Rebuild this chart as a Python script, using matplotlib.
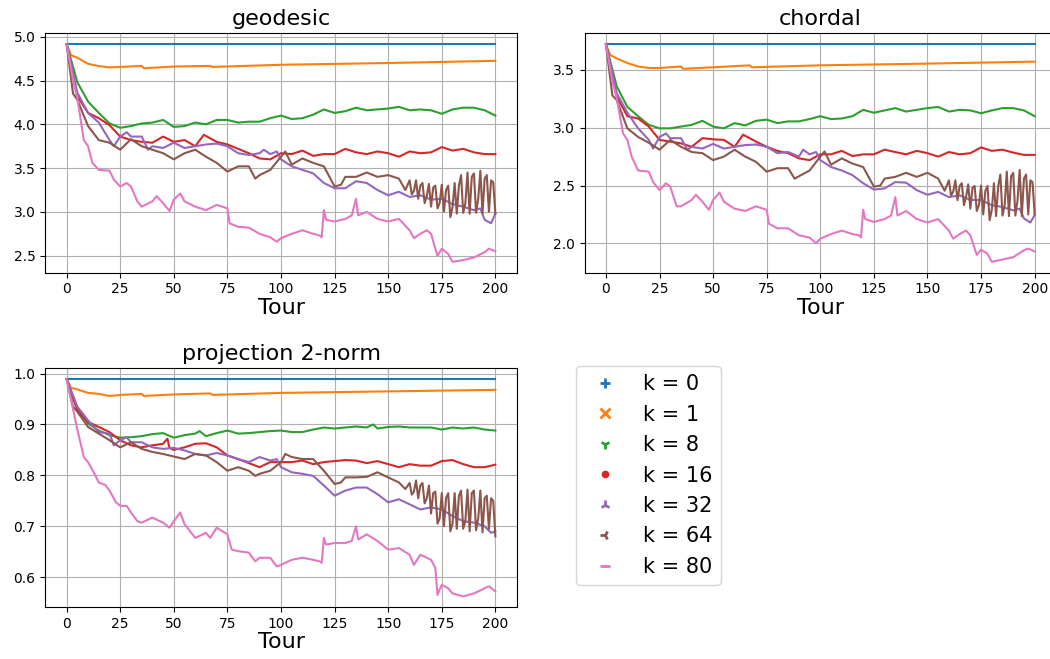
import matplotlib
matplotlib.use('Agg')
import matplotlib.pyplot as plt
from matplotlib.lines import Line2D

# values, as (tour, value) pairs
k_labels = ['k = 0', 'k = 1', 'k = 8', 'k = 16', 'k = 32', 'k = 64', 'k = 80']
k_markers = ['+', 'x', '1', '.', '2', '3', '_']
titles = ['geodesic', 'chordal', 'projection 2-norm']
xticks = [0, 25, 50, 75, 100, 125, 150, 175, 200]

#### geodesic
geo_k0 = [(0, 4.915), (200, 4.915)]
geo_k1 = [(0, 4.915), (2, 4.79), (5, 4.76), (10, 4.69), (15, 4.665), (20, 4.65), (25, 4.655),
          (35, 4.667), (36, 4.64), (50, 4.66), (67, 4.667), (68, 4.655), (100, 4.68),
          (150, 4.70), (200, 4.725)]
geo_k8 = [(0, 4.915), (5, 4.48), (10, 4.26), (15, 4.13), (20, 4.01), (25, 3.96), (30, 3.98),
          (35, 4.01), (40, 4.02), (45, 4.05), (50, 3.97), (55, 3.98), (60, 4.02), (65, 4.0),
          (70, 4.05), (75, 4.05), (80, 4.02), (85, 4.03), (90, 4.03), (95, 4.07), (100, 4.10),
          (105, 4.06), (110, 4.07), (115, 4.11), (120, 4.17), (125, 4.13), (130, 4.15),
          (135, 4.19), (140, 4.16), (145, 4.17), (150, 4.18), (155, 4.20), (160, 4.16),
          (165, 4.17), (170, 4.16), (175, 4.12), (180, 4.17), (185, 4.19), (190, 4.19),
          (195, 4.16), (200, 4.10)]
geo_k16 = [(0, 4.915), (5, 4.32), (10, 4.13), (15, 4.07), (20, 3.99), (25, 3.86), (30, 3.82),
           (35, 3.80), (40, 3.79), (45, 3.86), (50, 3.80), (55, 3.82), (60, 3.75), (64, 3.88),
           (70, 3.80), (75, 3.77), (80, 3.72), (85, 3.67), (90, 3.61), (95, 3.60), (100, 3.67),
           (105, 3.66), (110, 3.70), (115, 3.64), (120, 3.66), (125, 3.66), (130, 3.72),
           (135, 3.68), (140, 3.66), (145, 3.69), (150, 3.67), (155, 3.63), (160, 3.69),
           (165, 3.67), (170, 3.68), (175, 3.74), (180, 3.70), (185, 3.72), (190, 3.68),
           (195, 3.66), (200, 3.66)]
geo_k32 = [(0, 4.915), (5, 4.36), (10, 4.13), (15, 4.02), (20, 3.82), (22, 3.75), (25, 3.86),
           (28, 3.91), (30, 3.86), (35, 3.86), (38, 3.71), (40, 3.75), (45, 3.73), (50, 3.79),
           (55, 3.73), (60, 3.75), (65, 3.77), (70, 3.78), (75, 3.75), (80, 3.67), (85, 3.65),
           (90, 3.67), (92, 3.71), (95, 3.66), (98, 3.69), (100, 3.60), (105, 3.52),
           (110, 3.48), (115, 3.44), (120, 3.33), (125, 3.27), (130, 3.27), (135, 3.35),
           (140, 3.33), (145, 3.25), (150, 3.19), (155, 3.23), (160, 3.17), (165, 3.19),
           (170, 3.14), (175, 3.15), (180, 3.09), (185, 3.06), (190, 3.02), (193, 3.04),
           (195, 2.91), (198, 2.87), (200, 2.98)]
geo_k64 = [(0, 4.915), (3, 4.35), (5, 4.28), (10, 3.98), (15, 3.82), (20, 3.79), (25, 3.71),
           (30, 3.83), (35, 3.75), (40, 3.71), (45, 3.67), (50, 3.60), (55, 3.67), (60, 3.71),
           (65, 3.63), (70, 3.56), (75, 3.46), (80, 3.52), (85, 3.52), (88, 3.38), (90, 3.42),
           (95, 3.48), (100, 3.63), (102, 3.69), (105, 3.54), (110, 3.61), (115, 3.56),
           (120, 3.52), (125, 3.29), (128, 3.31), (130, 3.40), (135, 3.40), (140, 3.45),
           (145, 3.40), (150, 3.42), (155, 3.38), (158, 3.25), (160, 3.36), (161, 3.20),
           (162, 3.24), (163, 3.36), (164, 3.15), (165, 3.30), (166, 3.33), (167, 3.10),
           (168, 3.18), (169, 3.32), (170, 3.06), (171, 3.28), (172, 3.30), (173, 3.04),
           (174, 3.10), (175, 3.31), (176, 3.00), (177, 3.25), (178, 3.30), (179, 2.94),
           (180, 3.05), (181, 3.33), (182, 2.98), (183, 3.30), (184, 3.42), (185, 2.99),
           (186, 3.10), (187, 3.45), (188, 2.98), (189, 3.40), (190, 3.44), (191, 2.99),
           (192, 3.15), (193, 3.47), (194, 2.98), (195, 3.38), (196, 3.42), (197, 3.00),
           (198, 3.36), (199, 3.34), (200, 2.98)]
geo_k80 = [(0, 4.915), (3, 4.5), (5, 4.3), (8, 3.82), (10, 3.75), (12, 3.56), (15, 3.48),
           (20, 3.47), (22, 3.37), (25, 3.29), (28, 3.33), (30, 3.29), (33, 3.12), (35, 3.06),
           (40, 3.12), (42, 3.18), (45, 3.10), (48, 3.01), (50, 3.14), (53, 3.21), (55, 3.12),
           (60, 3.06), (65, 3.02), (70, 3.08), (75, 3.04), (76, 2.87), (80, 2.83), (85, 2.82),
           (90, 2.75), (95, 2.71), (98, 2.66), (100, 2.70), (105, 2.75), (110, 2.79),
           (115, 2.75), (118, 2.73), (119, 2.71), (120, 3.02), (121, 2.91), (125, 2.89),
           (130, 2.92), (133, 2.96), (135, 3.15), (136, 2.96), (140, 3.00), (145, 2.92),
           (150, 2.89), (155, 2.92), (160, 2.79), (162, 2.70), (165, 2.75), (168, 2.79),
           (170, 2.75), (172, 2.58), (173, 2.50), (175, 2.58), (178, 2.52), (180, 2.43),
           (185, 2.45), (190, 2.48), (195, 2.54), (197, 2.58), (200, 2.55)]

#### chordal
cho_k0 = [(0, 3.723), (200, 3.723)]
cho_k1 = [(0, 3.723), (2, 3.63), (5, 3.60), (10, 3.56), (15, 3.53), (20, 3.517), (25, 3.517),
          (35, 3.53), (36, 3.51), (50, 3.523), (67, 3.54), (68, 3.523), (100, 3.54),
          (150, 3.555), (200, 3.572)]
cho_k8 = [(0, 3.723), (5, 3.36), (10, 3.18), (15, 3.10), (20, 3.025), (25, 2.995), (30, 2.995),
          (35, 3.01), (40, 3.025), (45, 3.06), (50, 3.01), (55, 2.995), (60, 3.04), (65, 3.02),
          (70, 3.06), (75, 3.07), (80, 3.04), (85, 3.055), (90, 3.055), (95, 3.075), (100, 3.10),
          (105, 3.075), (110, 3.08), (115, 3.10), (120, 3.155), (125, 3.13), (130, 3.15),
          (135, 3.17), (140, 3.14), (145, 3.155), (150, 3.17), (155, 3.18), (160, 3.14),
          (165, 3.155), (170, 3.15), (175, 3.125), (180, 3.15), (185, 3.17), (190, 3.17),
          (195, 3.15), (200, 3.10)]
cho_k16 = [(0, 3.723), (5, 3.27), (10, 3.10), (15, 3.08), (20, 3.01), (25, 2.895), (30, 2.88),
           (35, 2.865), (40, 2.835), (45, 2.91), (50, 2.90), (55, 2.895), (60, 2.835),
           (64, 2.94), (70, 2.88), (75, 2.835), (80, 2.80), (85, 2.78), (90, 2.735), (95, 2.72),
           (100, 2.77), (105, 2.77), (110, 2.80), (115, 2.755), (120, 2.77), (125, 2.77),
           (130, 2.81), (135, 2.79), (140, 2.77), (145, 2.80), (150, 2.78), (155, 2.75),
           (160, 2.79), (165, 2.77), (170, 2.78), (175, 2.83), (180, 2.80), (185, 2.81),
           (190, 2.785), (195, 2.765), (200, 2.765)]
cho_k32 = [(0, 3.723), (5, 3.30), (10, 3.13), (15, 2.995), (20, 2.895), (22, 2.82), (25, 2.92),
           (28, 2.95), (30, 2.91), (35, 2.91), (38, 2.81), (40, 2.835), (45, 2.82), (50, 2.86),
           (55, 2.82), (60, 2.835), (65, 2.85), (70, 2.855), (75, 2.835), (80, 2.78),
           (85, 2.79), (90, 2.75), (92, 2.81), (95, 2.77), (98, 2.79), (100, 2.72),
           (105, 2.66), (110, 2.63), (115, 2.59), (120, 2.52), (125, 2.465), (130, 2.475),
           (135, 2.53), (140, 2.525), (145, 2.46), (150, 2.42), (155, 2.445), (160, 2.40),
           (165, 2.415), (170, 2.375), (175, 2.375), (180, 2.33), (185, 2.315), (190, 2.285),
           (193, 2.30), (195, 2.215), (198, 2.18), (200, 2.245)]
cho_k64 = [(0, 3.723), (3, 3.28), (5, 3.24), (10, 2.995), (15, 2.92), (20, 2.87), (25, 2.81),
           (30, 2.895), (35, 2.835), (40, 2.79), (45, 2.78), (50, 2.72), (55, 2.75), (60, 2.81),
           (65, 2.75), (70, 2.705), (75, 2.62), (80, 2.65), (85, 2.65), (88, 2.56), (90, 2.58),
           (95, 2.63), (100, 2.75), (102, 2.795), (105, 2.68), (110, 2.735), (115, 2.69),
           (120, 2.66), (125, 2.49), (128, 2.50), (130, 2.56), (135, 2.575), (140, 2.61),
           (145, 2.575), (150, 2.61), (155, 2.56), (158, 2.455), (160, 2.545), (161, 2.414),
           (162, 2.447), (163, 2.545), (164, 2.373), (165, 2.496), (166, 2.52), (167, 2.33),
           (168, 2.40), (169, 2.51), (170, 2.30), (171, 2.48), (172, 2.496), (173, 2.28),
           (174, 2.33), (175, 2.50), (176, 2.25), (177, 2.455), (178, 2.496), (179, 2.20),
           (180, 2.29), (181, 2.52), (182, 2.235), (183, 2.496), (184, 2.595), (185, 2.24),
           (186, 2.33), (187, 2.62), (188, 2.235), (189, 2.58), (190, 2.61), (191, 2.24),
           (192, 2.37), (193, 2.635), (194, 2.235), (195, 2.56), (196, 2.595), (197, 2.25),
           (198, 2.545), (199, 2.53), (200, 2.25)]
cho_k80 = [(0, 3.723), (3, 3.4), (5, 3.26), (8, 2.95), (10, 2.895), (12, 2.75), (15, 2.63),
           (20, 2.62), (22, 2.53), (25, 2.46), (28, 2.52), (30, 2.49), (33, 2.32), (35, 2.32),
           (40, 2.375), (42, 2.42), (45, 2.36), (48, 2.29), (50, 2.375), (53, 2.44), (55, 2.36),
           (60, 2.30), (65, 2.28), (70, 2.32), (75, 2.29), (76, 2.17), (80, 2.13), (85, 2.13),
           (90, 2.07), (95, 2.05), (98, 2.00), (100, 2.04), (105, 2.08), (110, 2.11),
           (115, 2.08), (118, 2.07), (119, 2.05), (120, 2.29), (121, 2.21), (125, 2.185),
           (130, 2.21), (133, 2.24), (135, 2.40), (136, 2.24), (140, 2.28), (145, 2.21),
           (150, 2.18), (155, 2.21), (160, 2.11), (162, 2.04), (165, 2.08), (168, 2.11),
           (170, 2.07), (172, 1.955), (173, 1.90), (175, 1.945), (178, 1.91), (180, 1.84),
           (185, 1.86), (190, 1.88), (195, 1.94), (197, 1.955), (200, 1.93)]

#### projection 2-norm
pro_k0 = [(0, 0.989), (200, 0.989)]
pro_k1 = [(0, 0.989), (2, 0.972), (5, 0.969), (10, 0.962), (15, 0.960), (20, 0.956),
          (25, 0.958), (35, 0.960), (36, 0.956), (50, 0.959), (67, 0.961), (68, 0.958),
          (100, 0.962), (150, 0.965), (200, 0.968)]
pro_k8 = [(0, 0.989), (5, 0.931), (10, 0.902), (15, 0.888), (20, 0.879), (25, 0.874),
          (30, 0.875), (35, 0.877), (40, 0.881), (45, 0.883), (50, 0.874), (55, 0.879),
          (60, 0.882), (62, 0.887), (65, 0.877), (70, 0.883), (75, 0.888), (80, 0.882),
          (85, 0.883), (90, 0.885), (95, 0.887), (100, 0.888), (105, 0.885), (110, 0.885),
          (115, 0.890), (120, 0.894), (125, 0.892), (130, 0.894), (135, 0.896), (140, 0.894),
          (143, 0.900), (145, 0.892), (150, 0.895), (155, 0.896), (160, 0.894), (165, 0.894),
          (170, 0.894), (175, 0.890), (180, 0.894), (185, 0.892), (190, 0.894), (195, 0.890),
          (200, 0.888)]
pro_k16 = [(0, 0.989), (5, 0.928), (10, 0.905), (15, 0.895), (20, 0.885), (25, 0.869),
           (30, 0.859), (35, 0.855), (40, 0.859), (45, 0.862), (47, 0.872), (48, 0.854),
           (50, 0.850), (55, 0.855), (60, 0.862), (65, 0.863), (70, 0.855), (75, 0.839),
           (80, 0.832), (85, 0.824), (90, 0.816), (95, 0.826), (100, 0.826), (105, 0.826),
           (110, 0.829), (115, 0.822), (120, 0.826), (125, 0.828), (130, 0.830), (135, 0.829),
           (140, 0.824), (145, 0.828), (150, 0.822), (155, 0.816), (160, 0.822), (165, 0.819),
           (170, 0.819), (175, 0.828), (180, 0.830), (185, 0.822), (190, 0.816), (195, 0.816),
           (200, 0.821)]
pro_k32 = [(0, 0.989), (5, 0.935), (10, 0.908), (15, 0.885), (20, 0.882), (22, 0.859),
           (25, 0.869), (28, 0.875), (30, 0.865), (35, 0.865), (40, 0.855), (45, 0.852),
           (50, 0.854), (55, 0.849), (60, 0.842), (65, 0.839), (70, 0.844), (75, 0.839),
           (80, 0.832), (85, 0.826), (90, 0.836), (95, 0.829), (98, 0.832), (100, 0.816),
           (105, 0.806), (110, 0.803), (115, 0.799), (120, 0.780), (125, 0.760), (130, 0.770),
           (135, 0.776), (140, 0.776), (145, 0.763), (150, 0.747), (155, 0.753), (160, 0.743),
           (165, 0.733), (170, 0.737), (175, 0.733), (180, 0.720), (185, 0.710), (190, 0.707),
           (195, 0.700), (198, 0.687), (200, 0.690)]
pro_k64 = [(0, 0.989), (3, 0.935), (5, 0.925), (10, 0.895), (15, 0.882), (20, 0.869),
           (25, 0.855), (30, 0.865), (35, 0.852), (40, 0.846), (45, 0.842), (50, 0.837),
           (55, 0.832), (60, 0.842), (65, 0.839), (70, 0.826), (75, 0.809), (80, 0.816),
           (85, 0.809), (88, 0.799), (90, 0.803), (95, 0.809), (100, 0.826), (102, 0.842),
           (105, 0.836), (110, 0.832), (115, 0.832), (120, 0.809), (125, 0.783), (128, 0.786),
           (130, 0.796), (135, 0.796), (140, 0.797), (145, 0.806), (150, 0.796), (155, 0.786),
           (158, 0.773), (160, 0.785), (161, 0.762), (162, 0.768), (163, 0.790), (164, 0.755),
           (165, 0.780), (166, 0.785), (167, 0.745), (168, 0.755), (169, 0.780), (170, 0.725),
           (171, 0.765), (172, 0.768), (173, 0.705), (174, 0.715), (175, 0.765), (176, 0.700),
           (177, 0.755), (178, 0.765), (179, 0.690), (180, 0.705), (181, 0.765), (182, 0.695),
           (183, 0.760), (184, 0.770), (185, 0.695), (186, 0.710), (187, 0.772), (188, 0.690),
           (189, 0.765), (190, 0.770), (191, 0.692), (192, 0.715), (193, 0.770), (194, 0.688),
           (195, 0.755), (196, 0.760), (197, 0.695), (198, 0.755), (199, 0.750), (200, 0.680)]
pro_k80 = [(0, 0.989), (3, 0.93), (5, 0.89), (8, 0.836), (10, 0.826), (13, 0.803), (15, 0.786),
           (18, 0.781), (20, 0.770), (23, 0.747), (25, 0.740), (28, 0.740), (30, 0.727),
           (33, 0.710), (35, 0.707), (40, 0.717), (45, 0.707), (48, 0.697), (50, 0.710),
           (53, 0.727), (55, 0.704), (60, 0.677), (65, 0.687), (67, 0.677), (70, 0.697),
           (75, 0.684), (77, 0.654), (80, 0.651), (85, 0.648), (88, 0.631), (90, 0.638),
           (95, 0.638), (98, 0.621), (100, 0.624), (105, 0.634), (110, 0.638), (115, 0.634),
           (118, 0.631), (119, 0.628), (120, 0.677), (121, 0.664), (125, 0.667), (130, 0.667),
           (133, 0.671), (135, 0.700), (136, 0.674), (140, 0.684), (145, 0.671), (150, 0.654),
           (155, 0.657), (160, 0.644), (162, 0.624), (165, 0.644), (168, 0.638), (170, 0.634),
           (172, 0.618), (173, 0.565), (175, 0.585), (178, 0.578), (180, 0.568), (185, 0.562),
           (190, 0.568), (195, 0.578), (197, 0.582), (200, 0.572)]

geodesic = [geo_k0, geo_k1, geo_k8, geo_k16, geo_k32, geo_k64, geo_k80]
chordal = [cho_k0, cho_k1, cho_k8, cho_k16, cho_k32, cho_k64, cho_k80]
projection = [pro_k0, pro_k1, pro_k8, pro_k16, pro_k32, pro_k64, pro_k80]

################

fig = plt.figure(figsize=(10.5, 6.59), dpi=100)
ax_geo = fig.add_axes([45.2/1050, 1 - 272.7/659, 471.6/1050, 239.4/659])
ax_cho = fig.add_axes([584.5/1050, 1 - 272.7/659, 471.6/1050, 239.4/659])
ax_pro = fig.add_axes([45.2/1050, 1 - 607.3/659, 471.6/1050, 239.0/659])

for ax, data, title in zip([ax_geo, ax_cho, ax_pro], [geodesic, chordal, projection], titles):
    for i, pts in enumerate(data):
        x, y = zip(*pts)
        ax.plot(x, y, color='C%d' % i, lw=1.5)
    ax.set_title(title, fontsize=16)
    ax.set_xlabel('Tour', fontsize=16, labelpad=1)
    ax.set_xticks(xticks)
    ax.grid(True)

handles = [Line2D([], [], linestyle='none', marker=m, color='C%d' % i, markersize=7, mew=2)
           for i, m in enumerate(k_markers)]
fig.legend(handles, k_labels, loc='upper left', bbox_to_anchor=(576/1050, 1 - 366/659),
           borderaxespad=0, fontsize=15)

plt.savefig('out.png', dpi=100)
#plt.show()
